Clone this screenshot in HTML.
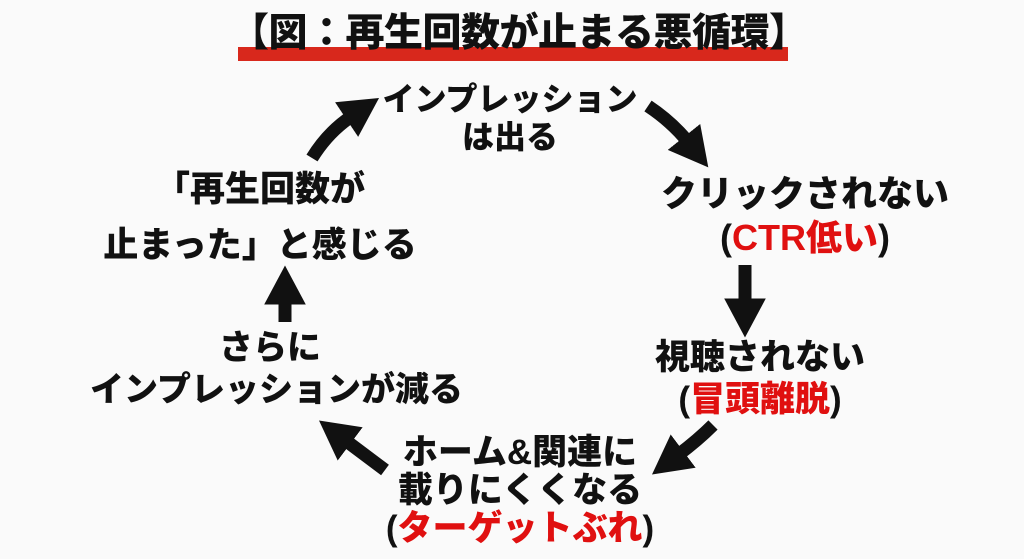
<!DOCTYPE html>
<html><head><meta charset="utf-8"><style>
html,body{margin:0;padding:0;background:#fafafa;}
#c{position:relative;width:1024px;height:559px;overflow:hidden;background:#fafafa;font-family:"Liberation Sans","Noto Sans CJK JP",sans-serif;font-weight:900;color:#111;}
.t{position:absolute;white-space:nowrap;text-align:center;font-size:34px;line-height:38px;font-weight:900;}
.r{color:#e01010;}
</style></head><body><div id="c">
<div style="position:absolute;left:238px;top:47px;width:550px;height:14px;background:#d8281c;"></div>
<div class="t" style="left:230px;top:11px;width:566px;font-size:39px;line-height:46px;letter-spacing:-0.5px;">【図：再生回数が止まる悪循環】</div>

<div class="t" style="left:360px;top:80px;width:300px;font-size:32px;">インプレッション<br>は出る</div>
<div class="t" style="left:640px;top:172px;width:330px;line-height:44px;font-size:36px;">クリックされない<br>(<span class="r">CTR低い</span>)</div>
<div class="t" style="left:630px;top:337px;width:260px;line-height:42px;font-size:35px;">視聴されない<br>(<span class="r">冒頭離脱</span>)</div>
<div class="t" style="left:385px;top:434px;width:270px;font-size:35px;">ホーム&amp;関連に<br>載りにくくなる<br>(<span class="r">ターゲットぶれ</span>)</div>
<div class="t" style="left:90px;top:327px;width:360px;line-height:42px;font-size:34px;">さらに<br>インプレッションが減る</div>
<div class="t" style="left:100px;top:162px;width:320px;line-height:56px;font-size:35px;">「再生回数が<br>止まった」と感じる</div>

<svg width="1024" height="559" style="position:absolute;left:0;top:0">
<defs><marker id="h" markerWidth="3" markerHeight="3.2" refX="0.5" refY="1.6" orient="auto" markerUnits="strokeWidth"><path d="M0,0 L3,1.6 L0,3.2 Z" fill="#111"/></marker></defs>
<g stroke="#111" stroke-width="13" fill="none" marker-end="url(#h)">
<path d="M312,158 Q328,132 352,116"/>
<path d="M648,106 Q672,122 688,142"/>
<path d="M745,265 L745,305"/>
<path d="M713,425 Q698,440 678,455"/>
<path d="M385,470 Q365,455 345,440"/>
<path d="M285,322 L285,298"/>
</g>
</svg>
</div></body></html>
